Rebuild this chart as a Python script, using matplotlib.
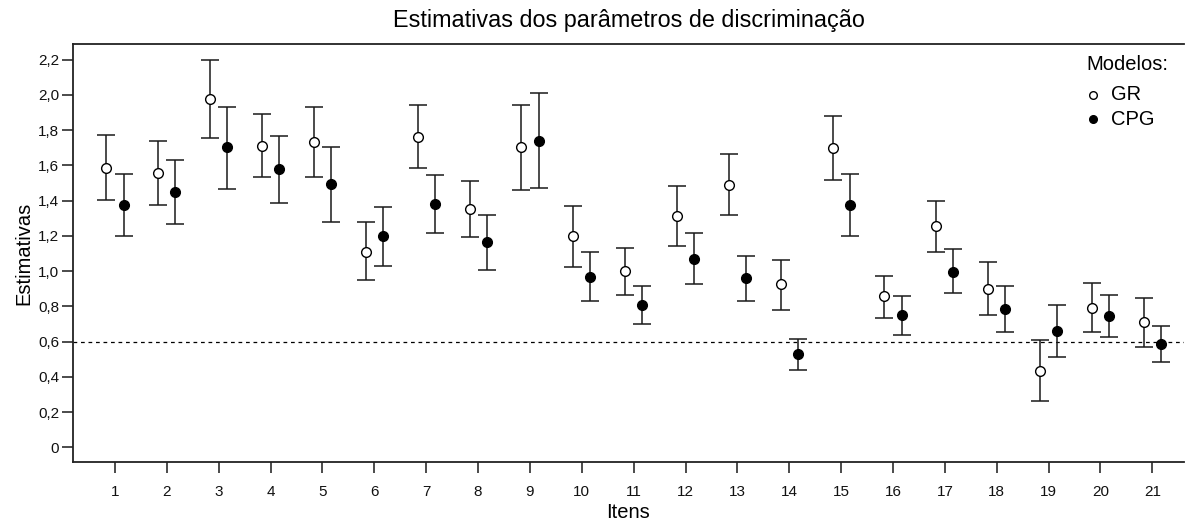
import matplotlib
matplotlib.use("Agg")
import matplotlib.pyplot as plt
import numpy as np

plt.rcParams['font.family'] = ['Liberation Sans', 'DejaVu Sans']

items = list(range(1, 22))
gr_est = [1.585, 1.555, 1.977, 1.712, 1.731, 1.111, 1.763, 1.350, 1.702, 1.197, 1.000,
          1.312, 1.490, 0.926, 1.701, 0.858, 1.257, 0.901, 0.435, 0.791, 0.712]
gr_low = [1.401, 1.375, 1.754, 1.536, 1.536, 0.949, 1.583, 1.191, 1.462, 1.026, 0.867,
          1.144, 1.316, 0.782, 1.517, 0.736, 1.111, 0.752, 0.263, 0.655, 0.572]
gr_up = [1.770, 1.740, 2.200, 1.890, 1.930, 1.276, 1.945, 1.509, 1.943, 1.367, 1.131,
         1.481, 1.665, 1.064, 1.881, 0.975, 1.399, 1.049, 0.608, 0.930, 0.850]
cpg_est = [1.373, 1.447, 1.702, 1.578, 1.492, 1.199, 1.381, 1.165, 1.739, 0.964, 0.807,
           1.068, 0.960, 0.528, 1.375, 0.750, 0.994, 0.784, 0.659, 0.744, 0.585]
cpg_low = [1.199, 1.265, 1.468, 1.388, 1.280, 1.030, 1.216, 1.009, 1.469, 0.831, 0.699,
           0.924, 0.833, 0.441, 1.201, 0.638, 0.873, 0.657, 0.511, 0.625, 0.483]
cpg_up = [1.549, 1.629, 1.932, 1.765, 1.702, 1.362, 1.543, 1.316, 2.011, 1.106, 0.913,
          1.219, 1.083, 0.614, 1.549, 0.861, 1.125, 0.915, 0.810, 0.864, 0.689]
yticks = [0, 0.2, 0.4, 0.6, 0.8, 1.0, 1.2, 1.4, 1.6, 1.8, 2.0, 2.2]
ytick_labels = ['0', '0,2', '0,4', '0,6', '0,8', '1,0', '1,2', '1,4', '1,6', '1,8', '2,0', '2,2']
threshold = 0.6

W, H = 1185, 530
fig = plt.figure(figsize=(W / 100, H / 100), dpi=100)
ax = fig.add_axes([73 / W, 1 - 462.3 / H, (1184 - 73) / W, (462.3 - 44.3) / H])

x = np.array(items, dtype=float)
off = 0.165
ink = '#1a1a1a'

def draw(xpos, est, low, up, face):
    est = np.array(est); low = np.array(low); up = np.array(up)
    ax.errorbar(xpos, est, yerr=[est - low, up - est], fmt='none', ecolor=ink,
                elinewidth=1.1, capsize=6.3, capthick=1.1, zorder=2)
    ax.plot(xpos, est, linestyle='none', marker='o', markersize=7.0,
            markerfacecolor=face, markeredgecolor='black', markeredgewidth=1.0, zorder=3)

draw(x - off, gr_est, gr_low, gr_up, 'white')
draw(x + off, cpg_est, cpg_low, cpg_up, 'black')

ax.axhline(threshold, color='black', linestyle=(0, (3, 3)), linewidth=0.9, zorder=1)

ax.set_xlim(0.19, 21.61)
ax.set_ylim(-0.085, 2.287)
ax.set_xticks(items)
ax.set_xticklabels([str(i) for i in items])
ax.set_yticks(yticks)
ax.set_yticklabels(ytick_labels)
ax.tick_params(axis='both', direction='out', length=8, width=1.1, labelsize=11, colors=ink)
ax.tick_params(axis='both', labelcolor='#111111')
ax.tick_params(axis='x', pad=8)
ax.tick_params(axis='y', pad=2)
for s in ['left', 'bottom', 'top']:
    ax.spines[s].set_linewidth(1.3)
    ax.spines[s].set_color('#222222')
ax.spines['right'].set_visible(False)

ax.set_xlabel('Itens', fontsize=14.5, labelpad=3)
ax.set_ylabel('Estimativas', fontsize=14.5, labelpad=3)
fig.text(629 / W, 1 - 20 / H, 'Estimativas dos parâmetros de discriminação',
         ha='center', va='center', fontsize=16.8)

# legend
fig.text(1127 / W, 1 - 64 / H, 'Modelos:', ha='center', va='center', fontsize=14.5)
ax.plot([1093 / W], [1 - 95 / H], transform=fig.transFigure, marker='o', markersize=5.5,
        markerfacecolor='white', markeredgecolor='black', markeredgewidth=1.0, clip_on=False)
ax.plot([1093 / W], [1 - 119 / H], transform=fig.transFigure, marker='o', markersize=5.5,
        markerfacecolor='black', markeredgecolor='black', markeredgewidth=1.0, clip_on=False)
fig.text(1111 / W, 1 - 95 / H, 'GR', ha='left', va='center', fontsize=14.5)
fig.text(1111 / W, 1 - 119 / H, 'CPG', ha='left', va='center', fontsize=14.5)

fig.savefig('out.png', dpi=100)
